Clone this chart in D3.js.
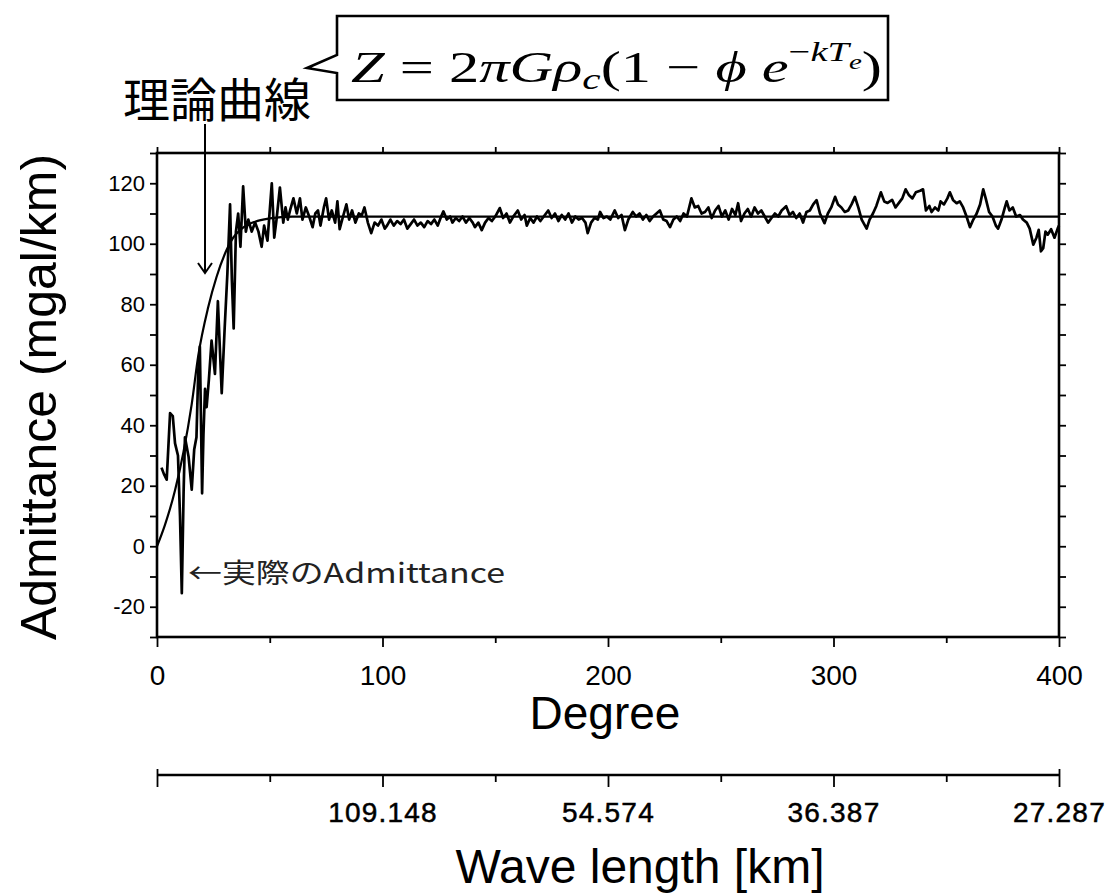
<!DOCTYPE html>
<html><head><meta charset="utf-8">
<script src="https://cdn.jsdelivr.net/npm/d3@7"></script>
<style>body{margin:0;background:#fff}</style>
</head><body>
<svg id="c" width="1113" height="894"></svg>
<script>
// ---------- data ----------
const degreeTicks = [0, 100, 200, 300, 400];
const yTickValues = [-20, 0, 20, 40, 60, 80, 100, 120];
const yTickLabels = ["-20", "0", "20", "40", "60", "80", "100", "120"];
const waveTickDegrees = [100, 200, 300, 400];
const waveTickLabels = ["109.148", "54.574", "36.387", "27.287"];

const theoryDegree = [0, 3.5, 8, 11.7, 15.4, 18.3, 22.7, 26.4, 30.9, 33.8, 37.6, 43.5, 50, 60, 400];
const theoryAdmittance = [0, 7, 18.5, 31, 47, 63, 79, 89, 98, 102, 105, 107.3, 108.4, 109, 109];

const observed = [
[2,26],[3,24],[4.3,22],[5.8,44],[7,43],[8,34],[9.3,30],[10.2,10],[11,-15.5],[11.8,18],[12.4,36],[14,29.6],
[15.4,18.7],[16.5,32],[17.5,36],[18.3,58],[19,66],[20,17.5],[20.6,37],[21.3,52],[22,46],[23,55],[24.2,68],
[25.7,57],[27,81],[28.7,50.6],[30,72],[31.2,90],[32.4,113],[33.2,88],[34,72],[35,104],[36,110],[37,99],
[38.2,119],[39.4,104],[40.5,108],
[42,104],[43.5,107],[45,104],[46.4,99],[47.5,106],[49,101],[50.9,120],[52,102],[53,108],[54.5,118.6],[56,107],
[57,112],[58,108],[59,111],[60.5,115],[62,110],[63.4,115],[64.5,108],[66,112],[67.5,109],[69,105.5],[70.2,110],
[71.4,111],[72.5,106],[74,112],[75,115],[76.3,108],[77.5,111],[79,107],[80,114],[81,104.8],[82.5,109],[84,113],
[85.2,108],[86.5,111],[88,107],[89.5,110],[90.8,109.4],[92,112],[93.5,107],[95,103.5],[96.5,107],[98,106],
[99.5,108],[101,105],[102,106],[103.5,108],[105,106],[106.5,107.5],[108,106.5],[109.5,108],[111,105],[112.5,106.5],
[114,108],[115.5,106],[117,107],[118.5,105.5],[120,107.5],[121.5,106.5],[123,108],[124.5,106],[126,109],[127,110.7],
[128.5,108],[130,109],[131,107],[132.5,108.5],[134,107.5],[135.5,109],[137,107],[138.5,108.5],[140,107],[141,105.5],
[142.5,107],[144,104.5],[145.5,107],[147,108.5],[148.5,107.5],[150,109],[152,111.8],[153.5,108.5],[155,110],
[156.5,107],[158,109],[160,111],[161.5,108],[163,109.5],[164,106],[165.5,108.5],[167,107],[168.5,109],[170,107.5],
[171.5,109],[173.5,111],[175,108.5],[176.5,110],[178,107.5],[179.5,109.5],[181,108],[182.5,110],[184,107],
[185.5,109],[187,108],[188.5,108.5],[190,107],[191,103.5],[192.5,107],[194,108.5],[195.5,108],[196.5,110.5],
[198,108.5],[199.5,109],[201,108],[203,111],[204.5,108.5],[206,109.5],[207.5,104.5],[209,108],[211,110.5],
[212.5,109],[214,110],[215.5,108],[217,109.5],[218.5,107.5],[220,109],[221.5,110],[223,111],[224.5,108],
[226,107.5],[227.5,105.5],[229,108],[230.5,109],[232,107.5],[233.5,110],[235,109],[237,115],[238.5,112],
[240,112.5],[241.5,110],[243,110.5],[244.5,112],[246,108.5],[247.5,111],[249,112.5],[250.5,109],[252,111],
[253.5,108],[255,111.5],[256.5,109.5],[257.7,113.4],[259,107.5],[260.5,110],[262,111.5],[263.5,109],[265,112],
[266.5,110],[268,111],[269.5,109],[271,107],[272.5,108.5],[274,110],[275.5,109],[277,111],[279,112.4],
[280.5,109.5],[282,110.5],[283.5,108.5],[285,110],[286.5,107],[288,110.5],[289.5,111],[291,113],[292.5,114.4],
[294,110],[296,106.8],[297.5,110],[299,112],[300.7,115.5],[302,113],[303.5,112],[305,110.5],[306.5,111],
[308,113],[309.5,115.5],[311,112],[312.5,108],[314.7,105],[316,108],[317.5,110],[319,112.5],[321,117],
[322.5,114],[324,113.5],[326,114.5],[327.5,112],[329,113.5],[330.5,115],[332,118],[333.5,116],[335,115],
[336.5,117],[338.4,117.5],[339.7,118],[341,111],[342.5,112.5],[343.5,110.5],[345,112],[346.5,111],[347.5,114],
[349,113],[350.5,115],[351.6,117],[353,114.5],[354.6,113.4],[356,114],[357.5,112],[359,109],[360.5,105.5],
[362,108],[363.5,110],[365,113],[366.4,118],[367.5,115],[369,110.5],[370.5,109],[372,106],[373,105],[374.5,108],
[376,112],[376.8,114],[378,111],[379.5,112],[381,109],[382.7,109.5],[384,108],[385.7,107],[387,105],[388.6,99.7],
[390,102],[391,104.6],[392,97.5],[393,98.5],[394,104],[395,103],[396.5,104.8],[398,102],[399.4,105],[400,106]
];

// ---------- chart ----------
const svg = d3.select("#c");
const x = d3.scaleLinear().domain([0, 400]).range([157, 1059]);
const y = d3.scaleLinear().domain([-30, 130]).range([637, 153]);
const SANS = "'Liberation Sans', Arial, sans-serif";
const CJK = "'Noto Sans CJK JP', sans-serif";

function styleAxis(g) {
  g.select(".domain").remove();
  g.selectAll(".tick line").attr("stroke", "#000").attr("stroke-width", 1.8);
  g.selectAll("text").attr("fill", "#000").attr("font-family", SANS);
}

// left
svg.append("g").attr("transform", `translate(${x(0)},0)`)
  .call(d3.axisLeft(y).tickValues(d3.range(-30, 131, 10)).tickSize(7).tickPadding(5)
    .tickFormat(d => { const i = yTickValues.indexOf(d); return i >= 0 ? yTickLabels[i] : ""; }))
  .call(styleAxis).selectAll("text").attr("font-size", 22);
// right
svg.append("g").attr("transform", `translate(${x(400)},0)`)
  .call(d3.axisRight(y).tickValues(d3.range(-30, 131, 10)).tickSize(7).tickFormat(""))
  .call(styleAxis);
// top
svg.append("g").attr("transform", `translate(0,${y(130)})`)
  .call(d3.axisTop(x).tickValues(d3.range(0, 401, 50)).tickSize(6).tickFormat(""))
  .call(styleAxis);
// bottom minor
svg.append("g").attr("transform", `translate(0,${y(-30)})`)
  .call(d3.axisBottom(x).tickValues([50, 150, 250, 350]).tickSize(6).tickFormat(""))
  .call(styleAxis);
// bottom major
svg.append("g").attr("transform", `translate(0,${y(-30)})`)
  .call(d3.axisBottom(x).tickValues(degreeTicks).tickSize(10).tickPadding(18).tickFormat(d => String(d)))
  .call(styleAxis).selectAll("text").attr("font-size", 28);

// frame
svg.append("rect").attr("x", x(0)).attr("y", y(130)).attr("width", x(400) - x(0)).attr("height", y(-30) - y(130))
  .attr("fill", "none").attr("stroke", "#000").attr("stroke-width", 2.6);

// theory curve
const theoryPts = theoryDegree.map((d, i) => [d, theoryAdmittance[i]]);
svg.append("path").datum(theoryPts)
  .attr("d", d3.line().x(d => x(d[0])).y(d => y(d[1])).curve(d3.curveMonotoneX))
  .attr("fill", "none").attr("stroke", "#000").attr("stroke-width", 2.2);

// observed
svg.append("path").datum(observed)
  .attr("d", d3.line().x(d => x(d[0])).y(d => y(d[1])))
  .attr("fill", "none").attr("stroke", "#000").attr("stroke-width", 2.7).attr("stroke-linejoin", "round");

// axis titles
svg.append("text").attr("x", 605).attr("y", 729).attr("text-anchor", "middle")
  .attr("font-family", SANS).attr("font-size", 46).text("Degree");
svg.append("text").attr("transform", "translate(56,397) rotate(-90)").attr("text-anchor", "middle")
  .attr("font-family", SANS).attr("font-size", 50).text("Admittance (mgal/km)");

// wavelength axis
const wy = 775;
svg.append("line").attr("x1", x(0)).attr("x2", x(400)).attr("y1", wy).attr("y2", wy)
  .attr("stroke", "#000").attr("stroke-width", 2.6);
svg.append("g").attr("transform", `translate(0,${wy})`)
  .call(d3.axisBottom(x).tickValues([50, 150, 250, 350]).tickSize(7).tickFormat(""))
  .call(styleAxis);
svg.append("g").attr("transform", `translate(0,${wy})`)
  .call(d3.axisBottom(x).tickValues([0].concat(waveTickDegrees)).tickSize(12).tickPadding(15)
    .tickFormat(d => { const i = waveTickDegrees.indexOf(d); return i >= 0 ? waveTickLabels[i] : ""; }))
  .call(styleAxis).selectAll("text").attr("font-size", 28).attr("letter-spacing", 1.2)
  .attr("stroke", "#000").attr("stroke-width", 0.5);
svg.append("g").attr("transform", `translate(0,${wy})`)
  .call(d3.axisTop(x).tickValues([0, 400]).tickSize(6).tickFormat(""))
  .call(styleAxis);
svg.append("text").attr("x", 640).attr("y", 883).attr("text-anchor", "middle")
  .attr("font-family", SANS).attr("font-size", 48).text("Wave length [km]");

// annotations
svg.append("text").attr("x", 123).attr("y", 117).attr("font-family", CJK).attr("font-size", 47)
  .attr("fill", "#000").text("理論曲線");
svg.append("line").attr("x1", 205).attr("x2", 205).attr("y1", 124).attr("y2", 272)
  .attr("stroke", "#000").attr("stroke-width", 2);
svg.append("path").attr("d", "M198,263 L205,273 L212,263").attr("fill", "none")
  .attr("stroke", "#000").attr("stroke-width", 2);

svg.append("text").attr("x", 188).attr("y", 583).attr("font-family", CJK).attr("font-size", 27)
  .attr("fill", "#222").attr("textLength", 317).attr("lengthAdjust", "spacingAndGlyphs")
  .text("←実際のAdmittance");

// callout box
svg.append("path").attr("d", "M337,16 H888 V100 H337 V73 L307,68 L337,55 Z")
  .attr("fill", "#fff").attr("stroke", "#000").attr("stroke-width", 2.6);

const f = svg.append("text").attr("font-family", "'Liberation Serif', 'DejaVu Serif', serif")
  .attr("font-size", 44).attr("fill", "#000");
f.append("tspan").attr("font-style", "italic").text("Z");
f.append("tspan").text(" = 2");
f.append("tspan").attr("font-style", "italic").text("πGρ");
f.append("tspan").attr("font-style", "italic").attr("font-size", 30).attr("dy", 7).text("c");
f.append("tspan").attr("dy", -7).text("(1 − ");
f.append("tspan").attr("font-style", "italic").text("ϕ  e");
f.append("tspan").attr("font-size", 28).attr("dy", -21).text("−");
f.append("tspan").attr("font-style", "italic").attr("font-size", 28).text("kT");
f.append("tspan").attr("font-style", "italic").attr("font-size", 21).attr("dy", 8).text("e");
f.append("tspan").attr("dy", 13).text(")");
const bb = f.node().getBBox();
f.attr("transform", `translate(${351 - bb.x * (531 / bb.width)},82) scale(${531 / bb.width},1)`);
</script>
</body></html>
